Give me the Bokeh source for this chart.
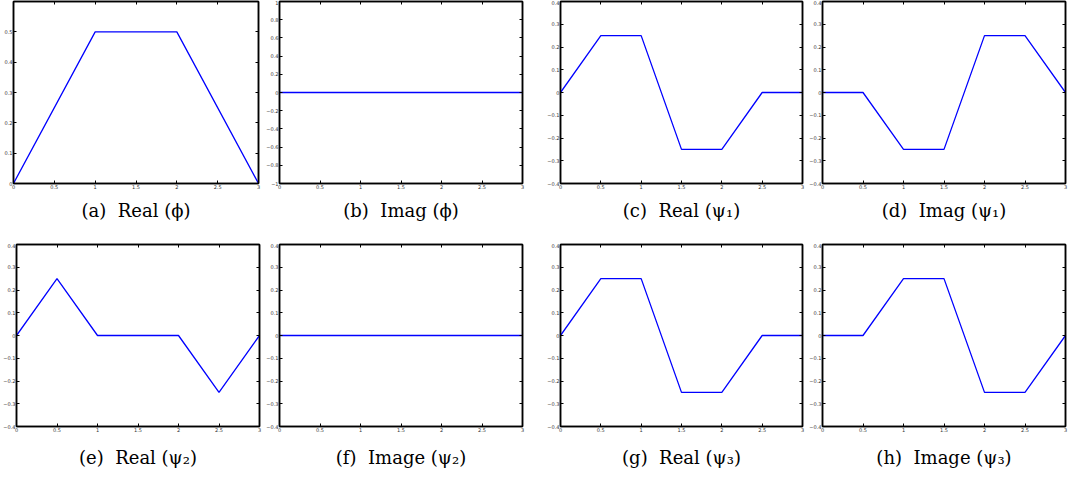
from bokeh.plotting import figure
from bokeh.layouts import row, column
from bokeh.models import LinearAxis, FixedTicker, Range1d, CustomJSTickFormatter
from bokeh.embed import file_html
from bokeh.resources import INLINE

# ---- data ----
x_phi = [0, 1, 2, 3]
real_phi = [0, 0.5, 0.5, 0]
x_line = [0, 3]
imag_phi = [0, 0]
x_psi = [0, 0.5, 1, 1.5, 2, 2.5, 3]
real_psi1 = [0, 0.25, 0.25, -0.25, -0.25, 0, 0]
imag_psi1 = [0, 0, -0.25, -0.25, 0.25, 0.25, 0]
real_psi2 = [0, 0.25, 0, 0, 0, -0.25, 0]
imag_psi2 = [0, 0]
real_psi3 = [0, 0.25, 0.25, -0.25, -0.25, 0, 0]
imag_psi3 = [0, 0, 0.25, 0.25, -0.25, -0.25, 0]

NB = "\u00a0"
captions = [f"(a){NB}{NB}Real{NB}(ϕ)", f"(b){NB}{NB}Imag{NB}(ϕ)",
            f"(c){NB}{NB}Real{NB}(ψ₁)", f"(d){NB}{NB}Imag{NB}(ψ₁)",
            f"(e){NB}{NB}Real{NB}(ψ₂)", f"(f){NB}{NB}Image{NB}(ψ₂)",
            f"(g){NB}{NB}Real{NB}(ψ₃)", f"(h){NB}{NB}Image{NB}(ψ₃)"]

x_ticks = [0, 0.5, 1, 1.5, 2, 2.5, 3]
y_ticks_a = [0, 0.1, 0.2, 0.3, 0.4, 0.5, 0.6]
y_ticks_b = [-1, -0.8, -0.6, -0.4, -0.2, 0, 0.2, 0.4, 0.6, 0.8, 1]
y_ticks_c = [-0.4, -0.3, -0.2, -0.1, 0, 0.1, 0.2, 0.3, 0.4]


def style_axis(ax, ticks, labels=True):
    ax.ticker = FixedTicker(ticks=ticks)
    ax.axis_line_color = "black"
    ax.axis_line_width = 1.5
    ax.major_tick_in = 3
    ax.major_tick_out = 0
    ax.minor_tick_line_color = None
    ax.major_tick_line_color = "black"
    ax.major_label_standoff = 1 if labels else 0
    ax.major_label_text_font = "DejaVu Sans"
    ax.major_label_text_font_size = "5px"
    ax.major_label_text_color = "#333333"
    if not labels:
        ax.formatter = CustomJSTickFormatter(code="return ''")


def panel(xs, ys, yr, yt, caption, L, W, R, T, B, standoff, hide=None):
    p = figure(frame_width=W, frame_height=182, output_backend="svg",
               toolbar_location=None, x_range=Range1d(0, 3), y_range=Range1d(*yr),
               min_border_left=L, min_border_right=R, min_border_top=T,
               min_border_bottom=B, title=caption, title_location="below")
    p.line(xs, ys, line_color="#0000ff", line_width=1.3)
    p.grid.visible = False
    style_axis(p.xaxis[0], x_ticks)
    style_axis(p.yaxis[0], yt)
    if hide is not None:
        p.yaxis[0].major_label_overrides = {hide: ""}
    top = LinearAxis()
    style_axis(top, x_ticks, labels=False)
    p.add_layout(top, "above")
    right = LinearAxis()
    style_axis(right, yt, labels=False)
    p.add_layout(right, "right")
    p.outline_line_color = "black"
    p.outline_line_width = 1.5
    p.title.text_font = "DejaVu Serif"
    p.title.text_font_size = "18px"
    p.title.text_font_style = "normal"
    p.title.align = "center"
    p.title.text_color = "black"
    p.title.standoff = standoff
    return p


pa = panel(x_phi, real_phi, (0, 0.6), y_ticks_a, captions[0], 13, 245, 4, 1, 60, 13, hide=0.6)
pb = panel(x_line, imag_phi, (-1, 1), y_ticks_b, captions[1], 17, 243, 21, 1, 60, 13)
pc = panel(x_psi, real_psi1, (-0.4, 0.4), y_ticks_c, captions[2], 17, 242, 3, 1, 60, 13)
pd = panel(x_psi, imag_psi1, (-0.4, 0.4), y_ticks_c, captions[3], 17, 243, 4, 1, 60, 13)
pe = panel(x_psi, real_psi2, (-0.4, 0.4), y_ticks_c, captions[4], 16, 243, 3, 1, 52, 20)
pf = panel(x_line, imag_psi2, (-0.4, 0.4), y_ticks_c, captions[5], 17, 243, 21, 1, 52, 20)
pg = panel(x_psi, real_psi3, (-0.4, 0.4), y_ticks_c, captions[6], 17, 242, 3, 1, 52, 20)
ph = panel(x_psi, imag_psi3, (-0.4, 0.4), y_ticks_c, captions[7], 17, 243, 4, 1, 52, 20)

layout = column(row(pa, pb, pc, pd), row(pe, pf, pg, ph))
open("out.html", "w").write(file_html(layout, INLINE))
